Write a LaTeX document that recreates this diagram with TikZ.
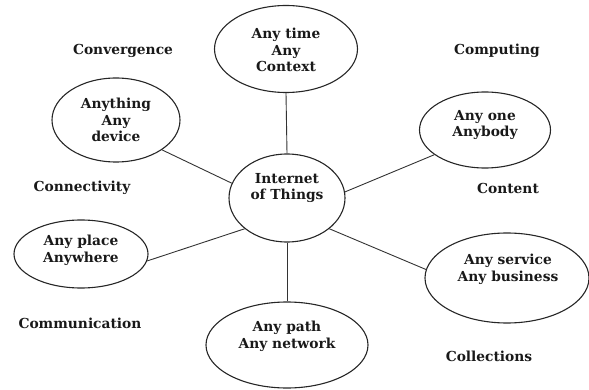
\documentclass[tikz,border=0pt]{standalone}
\usepackage{fontspec}
\setmainfont{DejaVu Serif}
\usetikzlibrary{shapes.geometric}
\begin{document}
\begin{tikzpicture}[x=1pt,y=-1pt,
  bubble/.style={draw=black!85, line width=1.1pt, ellipse, inner sep=0pt},
  word/.style={font=\bfseries\fontsize{13.8}{16.8}\selectfont, align=center, text=black!90, inner sep=0pt},
  link/.style={draw=black!80, line width=0.9pt}]
\useasboundingbox (0,0) rectangle (589,390);

% ellipses
\node[bubble, minimum width=143, minimum height=87] (time) at (286,49) {};
\node[bubble, minimum width=128, minimum height=84] (thing) at (116,120) {};
\node[bubble, minimum width=116, minimum height=88] (iot) at (287,198) {};
\node[bubble, minimum width=131, minimum height=76] (one) at (485,130) {};
\node[bubble, minimum width=134, minimum height=68] (place) at (81,254) {};
\node[bubble, minimum width=162, minimum height=86] (path) at (287,345) {};
\node[bubble, minimum width=164, minimum height=90] (service) at (507,278) {};

% texts inside the ellipses
\node[word] (timeT) at (286,50) {Any time\\Any\\Context};
\node[word] (thingT) at (116,120) {Anything\\Any\\device};
\node[word] (iotT) at (287,188) {Internet\\of Things};
\node[word] (oneT) at (485,125) {Any one\\Anybody};
\node[word] (placeT) at (81,250) {Any place\\Anywhere};
\node[word] (pathT) at (287,336) {Any path\\Any network};
\node[word] (serviceT) at (508,269) {Any service\\Any business};

% outer labels
\node[word] (conv) at (123,51) {Convergence};
\node[word] (comp) at (497,51) {Computing};
\node[word] (conn) at (82,188) {Connectivity};
\node[word] (cont) at (508,188) {Content};
\node[word] (comm) at (80,323) {Communication};
\node[word] (coll) at (489,356) {Collections};

% spokes
\draw[link] (time.south) -- (iot.north);
\draw[link] (thing.327) -- (iot.165);
\draw[link] (one.206) -- (iot.6);
\draw[link] (place.354) -- (iot.216);
\draw[link] (iot.south) -- (path.north);
\draw[link] (iot.324) -- (service.174);
\end{tikzpicture}
\end{document}
